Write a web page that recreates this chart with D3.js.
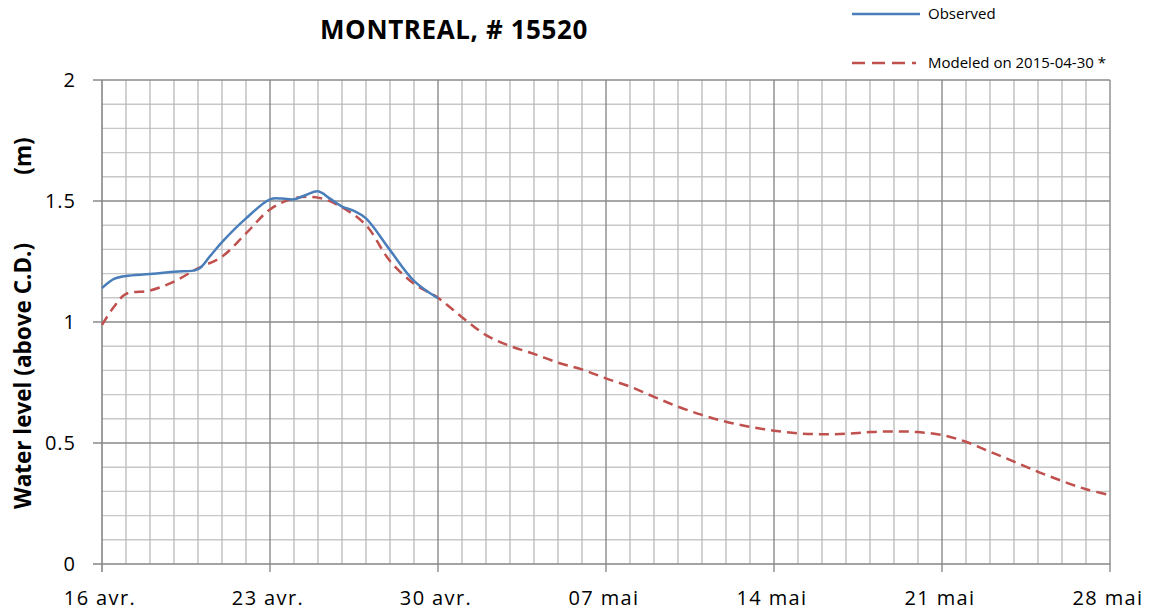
<!DOCTYPE html>
<html>
<head>
<meta charset="utf-8">
<script src="https://cdn.jsdelivr.net/npm/d3@7"></script>
<style>
	body { margin: 0; background: #fff; }
	text { font-family: "Open Sans", sans-serif; fill: #000; }
</style>
</head>
<body>
<div id="chart"></div>
<script>
// observed water level, every half day / day
var obsTimes = ["2015-04-16 00", "2015-04-16 12", "2015-04-17 00", "2015-04-18 00", "2015-04-19 00",
	"2015-04-20 00", "2015-04-20 12", "2015-04-21 00", "2015-04-22 00", "2015-04-23 00", "2015-04-23 12",
	"2015-04-24 00", "2015-04-24 12", "2015-04-25 00", "2015-04-25 12", "2015-04-26 00", "2015-04-26 12",
	"2015-04-27 00", "2015-04-28 00", "2015-04-29 00", "2015-04-30 00"];
var obsLevels = [1.14, 1.178, 1.19, 1.198, 1.208,
	1.218, 1.272, 1.33, 1.428, 1.507, 1.51,
	1.507, 1.525, 1.54, 1.51, 1.477, 1.459,
	1.428, 1.297, 1.17, 1.098];

// modeled on 2015-04-30
var modTimes = ["2015-04-16 00", "2015-04-16 12", "2015-04-17 00", "2015-04-18 00", "2015-04-19 00",
	"2015-04-20 00", "2015-04-21 00", "2015-04-22 00", "2015-04-23 00", "2015-04-24 00", "2015-04-25 00",
	"2015-04-26 00", "2015-04-27 00", "2015-04-28 00", "2015-04-29 00", "2015-04-30 00",
	"2015-05-01 00", "2015-05-02 00", "2015-05-03 00", "2015-05-04 00", "2015-05-05 00", "2015-05-06 00",
	"2015-05-07 00", "2015-05-08 00", "2015-05-09 00", "2015-05-10 00", "2015-05-11 00", "2015-05-12 00",
	"2015-05-13 00", "2015-05-14 00", "2015-05-15 00", "2015-05-16 00", "2015-05-17 00", "2015-05-18 00",
	"2015-05-19 00", "2015-05-20 00", "2015-05-21 00", "2015-05-22 00", "2015-05-23 00", "2015-05-24 00",
	"2015-05-25 00", "2015-05-26 00", "2015-05-27 00", "2015-05-28 00"];
var modLevels = [0.988, 1.063, 1.116, 1.13, 1.167,
	1.222, 1.27, 1.366, 1.465, 1.511, 1.514,
	1.474, 1.40, 1.252, 1.158, 1.1,
	1.02, 0.946, 0.901, 0.868, 0.832, 0.804,
	0.767, 0.733, 0.691, 0.65, 0.616, 0.588,
	0.567, 0.551, 0.540, 0.536, 0.538, 0.545,
	0.548, 0.545, 0.533, 0.505, 0.464, 0.423,
	0.381, 0.343, 0.309, 0.285];

var tickDates = ["2015-04-16 00", "2015-04-23 00", "2015-04-30 00", "2015-05-07 00", "2015-05-14 00", "2015-05-21 00", "2015-05-28 00"];
var tickLabels = ["16 avr.", "23 avr.", "30 avr.", "07 mai", "14 mai", "21 mai", "28 mai"];
var yTicks = [0, 0.5, 1, 1.5, 2];
var yTickLabels = ["0", "0.5", "1", "1.5", "2"];

var parse = d3.utcParse("%Y-%m-%d %H");
var W = 1149, H = 616;
var margin = {left: 102, right: 39, top: 80, bottom: 52};

var svg = d3.select("#chart").append("svg")
	.attr("width", W)
	.attr("height", H);

var x = d3.scaleUtc()
	.domain([parse(tickDates[0]), parse(tickDates[tickDates.length - 1])])
	.range([margin.left, W - margin.right]);
var y = d3.scaleLinear()
	.domain([0, 2])
	.range([H - margin.bottom, margin.top]);

// grid
var days = d3.utcDay.range(x.domain()[0], d3.utcDay.offset(x.domain()[1], 1));
var minorY = d3.range(0, 21).map(function(i) { return i / 10; });

var grid = svg.append("g").attr("class", "grid");
grid.selectAll("line.hy")
	.data(minorY.filter(function(v) { return Math.round(v * 10) % 5 != 0; }))
	.enter().append("line")
	.attr("x1", margin.left).attr("x2", W - margin.right)
	.attr("y1", function(d) { return y(d); }).attr("y2", function(d) { return y(d); })
	.style("stroke", "#c8c8c8").style("stroke-width", 1.4);
grid.selectAll("line.vx")
	.data(days.filter(function(d, i) { return i % 7 != 0; }))
	.enter().append("line")
	.attr("x1", function(d) { return x(d); }).attr("x2", function(d) { return x(d); })
	.attr("y1", margin.top).attr("y2", H - margin.bottom)
	.style("stroke", "#bdbdbd").style("stroke-width", 1.4);
grid.selectAll("line.hmaj")
	.data(yTicks.slice(1))
	.enter().append("line")
	.attr("x1", margin.left - 9).attr("x2", W - margin.right)
	.attr("y1", function(d) { return y(d); }).attr("y2", function(d) { return y(d); })
	.style("stroke", "#8a8a8a").style("stroke-width", 1.4);
grid.selectAll("line.vmaj")
	.data(tickDates.slice(1))
	.enter().append("line")
	.attr("x1", function(d) { return x(parse(d)); }).attr("x2", function(d) { return x(parse(d)); })
	.attr("y1", margin.top).attr("y2", H - margin.bottom + 8)
	.style("stroke", "#8a8a8a").style("stroke-width", 1.4);

// axes
svg.append("line")
	.attr("x1", margin.left).attr("x2", margin.left)
	.attr("y1", margin.top).attr("y2", H - margin.bottom + 8)
	.style("stroke", "#868686").style("stroke-width", 1.6);
svg.append("line")
	.attr("x1", margin.left - 9).attr("x2", W - margin.right)
	.attr("y1", y(0)).attr("y2", y(0))
	.style("stroke", "#868686").style("stroke-width", 1.6);

svg.selectAll("text.yl")
	.data(yTicks)
	.enter().append("text")
	.attr("x", 76)
	.attr("y", function(d) { return y(d); })
	.attr("dy", "0.35em")
	.attr("text-anchor", "end")
	.style("font-size", "20px")
	.style("letter-spacing", "1px")
	.text(function(d, i) { return yTickLabels[i]; });

svg.selectAll("text.xl")
	.data(tickDates)
	.enter().append("text")
	.attr("x", function(d) { return x(parse(d)) - 2; })
	.attr("y", 605)
	.attr("text-anchor", "middle")
	.style("font-size", "20px")
	.style("letter-spacing", "1.4px")
	.text(function(d, i) { return tickLabels[i]; });

// lines
var line = d3.line()
	.x(function(d) { return x(d[0]); })
	.y(function(d) { return y(d[1]); })
	.curve(d3.curveCatmullRom.alpha(0.5));

var obs = obsTimes.map(function(t, i) { return [parse(t), obsLevels[i]]; });
var mod = modTimes.map(function(t, i) { return [parse(t), modLevels[i]]; });

svg.append("path")
	.datum(mod)
	.attr("d", line)
	.style("fill", "none")
	.style("stroke", "#c0504d")
	.style("stroke-width", 2.5)
	.style("stroke-dasharray", "10,6");
svg.append("path")
	.datum(obs)
	.attr("d", line)
	.style("fill", "none")
	.style("stroke", "#4a7ebb")
	.style("stroke-width", 2.5);

// titles
svg.append("text")
	.attr("x", 454)
	.attr("y", 39)
	.attr("text-anchor", "middle")
	.style("font-size", "26px")
	.style("font-weight", "bold")
	.style("letter-spacing", "0.6px")
	.text("MONTREAL, # 15520");

svg.append("text")
	.attr("transform", "translate(31,376) rotate(-90)")
	.attr("text-anchor", "middle")
	.style("font-size", "22.5px")
	.style("font-weight", "bold")
	.text("Water level (above C.D.)");
svg.append("text")
	.attr("transform", "translate(31,156) rotate(-90)")
	.attr("text-anchor", "middle")
	.style("font-size", "22.5px")
	.style("font-weight", "bold")
	.text("(m)");

// legend
var legend = svg.append("g").attr("class", "legend");
legend.append("line")
	.attr("x1", 852).attr("x2", 920).attr("y1", 14).attr("y2", 14)
	.style("stroke", "#4a7ebb").style("stroke-width", 2.5);
legend.append("text")
	.attr("x", 928).attr("y", 19)
	.style("font-size", "15px")
	.text("Observed");
legend.append("line")
	.attr("x1", 852).attr("x2", 916).attr("y1", 63).attr("y2", 63)
	.style("stroke", "#c0504d").style("stroke-width", 2.5)
	.style("stroke-dasharray", "13,7");
legend.append("text")
	.attr("x", 928).attr("y", 68)
	.style("font-size", "15px")
	.text("Modeled on 2015-04-30 *");
</script>
</body>
</html>
